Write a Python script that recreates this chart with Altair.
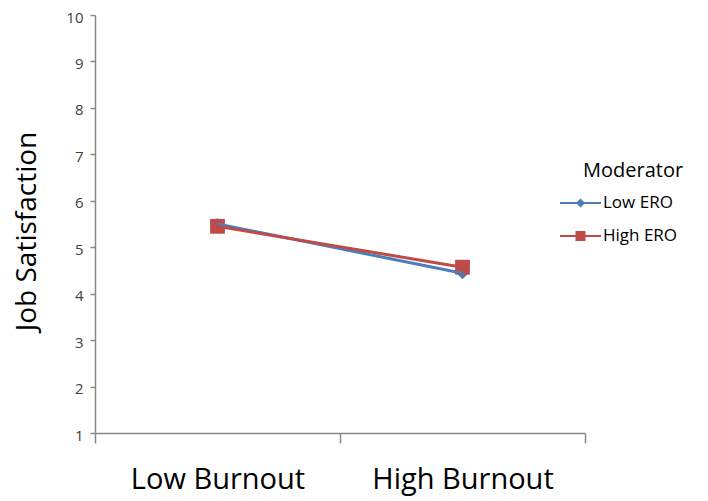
import altair as alt
import pandas as pd

categories = ["Low Burnout", "High Burnout"]
positions = [0.5, 1.5]
moderators = ["Low ERO", "High ERO"]
low_ero = [5.5, 4.44]
high_ero = [5.45, 4.57]
colors = ["#4A7EBB", "#BE4B48"]

rows = []
for i, c in enumerate(categories):
    rows.append({"Burnout": c, "pos": positions[i], "Moderator": "Low ERO", "value": low_ero[i]})
    rows.append({"Burnout": c, "pos": positions[i], "Moderator": "High ERO", "value": high_ero[i]})
df = pd.DataFrame(rows)

FONT = "Open Sans"
AX = "#888888"

low_path = "M-1,-0.1H3.1V0.1H-1Z M1.05,-0.45L1.5,0L1.05,0.45L0.6,0Z"
high_path = "M-1,-0.1H3.1V0.1H-1Z M0.55,-0.5H1.55V0.5H0.55Z"

x = alt.X(
    "pos:Q",
    scale=alt.Scale(domain=[0, 2], nice=False, zero=False),
    axis=alt.Axis(
        values=[0, 1, 2],
        title=None,
        grid=False,
        labelExpr="datum.value == 0 ? 'Low Burnout' : (datum.value == 1 ? 'High Burnout' : '')",
        labelOffset=122.5,
        labelFont=FONT,
        labelFontSize=29,
        labelColor="#000000",
        labelBaseline="top",
        labelPadding=22,
        labelLimit=400,
        tickSize=10,
        tickColor=AX,
        tickWidth=1.5,
        domainColor=AX,
        domainWidth=1.5,
        labelFlush=False,
        labelOverlap=False,
    ),
)
y = alt.Y(
    "value:Q",
    scale=alt.Scale(domain=[1, 10], nice=False, zero=False),
    axis=alt.Axis(
        values=list(range(1, 11)),
        title="Job Satisfaction",
        titleFont=FONT,
        titleFontSize=28,
        titleFontWeight="normal",
        titleColor="#000000",
        titleX=-68,
        titleY=216,
        titleBaseline="middle",
        titleAngle=270,
        grid=False,
        labelFont=FONT,
        labelFontSize=15,
        labelColor="#404040",
        labelPadding=7,
        labelOffset=2,
        tickSize=5,
        tickColor=AX,
        tickWidth=1.5,
        domainColor=AX,
        domainWidth=1.5,
        labelFlush=False,
    ),
)
color_scale = alt.Scale(domain=moderators, range=colors)

base = alt.Chart(df)
low_df = base.transform_filter(alt.datum.Moderator == "Low ERO")
high_df = base.transform_filter(alt.datum.Moderator == "High ERO")

pts_low = low_df.mark_point(
    filled=True, opacity=1, shape="diamond", size=150, color=colors[0]
).encode(x=x, y=y)
pts_high = high_df.mark_point(
    filled=True, opacity=1, shape="square", size=220, color=colors[1]
).encode(x=x, y=y)
line_low = low_df.mark_line(strokeWidth=3, color=colors[0]).encode(x=x, y=y)
line_high = high_df.mark_line(strokeWidth=3, color=colors[1]).encode(x=x, y=y)

legend = alt.Legend(
    title="Moderator",
    orient="none",
    legendX=488,
    legendY=146,
    titleFont=FONT,
    titleFontSize=20,
    titleFontWeight="normal",
    titleColor="#000000",
    titleAnchor="start",
    titlePadding=12,
    labelFont=FONT,
    labelFontSize=17,
    labelColor="#000000",
    symbolSize=400,
    symbolStrokeWidth=0,
    symbolOpacity=1,
    symbolOffset=-23,
    labelOffset=23,
    rowPadding=15,
)

legend_layer = base.mark_point(filled=True, opacity=0).encode(
    x=x,
    y=y,
    color=alt.Color("Moderator:N", scale=color_scale, sort=moderators, legend=legend),
    shape=alt.Shape(
        "Moderator:N",
        sort=moderators,
        scale=alt.Scale(domain=moderators, range=[low_path, high_path]),
        legend=legend,
    ),
)

chart = (
    alt.layer(pts_low, pts_high, line_low, line_high, legend_layer)
    .properties(
        width=490,
        height=418,
        autosize=alt.AutoSizeParams(type="none"),
        padding={"left": 87, "top": 7, "right": 115, "bottom": 70},
        background="#ffffff",
    )
    .configure_view(stroke=None)
)

chart.save("out.html", embed_options={"renderer": "svg", "actions": False})
